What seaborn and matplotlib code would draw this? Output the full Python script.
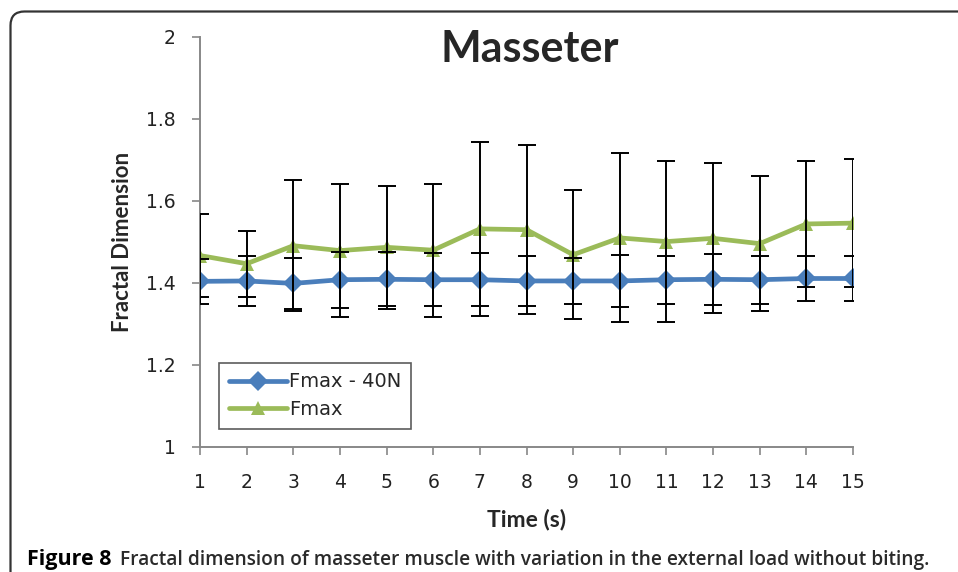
import numpy as np
import pandas as pd
import matplotlib
matplotlib.use("Agg")
import matplotlib.pyplot as plt
import seaborn as sns
from matplotlib.path import Path
from matplotlib.patches import PathPatch
from matplotlib.transforms import Affine2D

time_s = list(range(1, 16))
fmax40_mean = [1.404, 1.405, 1.399, 1.408, 1.409, 1.408, 1.408, 1.405, 1.405, 1.405, 1.408, 1.409, 1.408, 1.411, 1.411]
fmax40_sd = [0.055, 0.060, 0.063, 0.068, 0.066, 0.064, 0.065, 0.061, 0.057, 0.063, 0.059, 0.062, 0.059, 0.056, 0.056]
fmax_mean = [1.467, 1.447, 1.491, 1.479, 1.487, 1.480, 1.532, 1.530, 1.469, 1.510, 1.501, 1.509, 1.496, 1.544, 1.546]
fmax_sd = [0.101, 0.080, 0.160, 0.163, 0.150, 0.162, 0.212, 0.206, 0.157, 0.206, 0.197, 0.183, 0.165, 0.153, 0.156]
series_names = ["Fmax - 40N", "Fmax"]
y_ticks = [1, 1.2, 1.4, 1.6, 1.8, 2]
y_tick_labels = ["1", "1.2", "1.4", "1.6", "1.8", "2"]

sns.set_style("white")
plt.rcParams["font.family"] = ["DejaVu Sans"]

df = pd.DataFrame({
    "Time": time_s * 2,
    "FD": fmax40_mean + fmax_mean,
    "SD": fmax40_sd + fmax_sd,
    "Series": [series_names[0]] * 15 + [series_names[1]] * 15,
})

BLUE = "#4a7ebb"
GREEN = "#9bbb59"

W, H = 958, 572
fig = plt.figure(figsize=(W / 100, H / 100), dpi=100)
ax = fig.add_axes([200 / W, 1 - 447 / H, 653 / W, 410 / H])

sns.lineplot(data=df, x="Time", y="FD", hue="Series", style="Series",
             palette={series_names[0]: BLUE, series_names[1]: GREEN},
             markers={series_names[0]: "D", series_names[1]: "^"},
             dashes=False, linewidth=3.4, markersize=10.5,
             markeredgewidth=0, ax=ax, zorder=3, legend=True)

for name in series_names:
    sub = df[df["Series"] == name]
    ax.errorbar(sub["Time"], sub["FD"], yerr=sub["SD"], fmt="none",
                ecolor="black", elinewidth=1.4, capsize=6.5, capthick=1.4,
                zorder=4)

ax.set_xlim(1, 15)
ax.set_ylim(1, 2)
ax.set_xticks(time_s)
ax.set_xticklabels([str(t) for t in time_s], fontsize=13.5)
ax.set_yticks(y_ticks)
ax.set_yticklabels(y_tick_labels, fontsize=13.5)
ax.tick_params(axis="both", direction="out", length=5.5, width=1.2,
               color="#888888", labelcolor="#222222", left=True, bottom=True)
ax.tick_params(axis="y", pad=12)
ax.tick_params(axis="x", pad=13)
for s in ["top", "right"]:
    ax.spines[s].set_visible(False)
for s in ["left", "bottom"]:
    ax.spines[s].set_color("#888888")
    ax.spines[s].set_linewidth(1.4)

ax.set_xlabel("Time (s)", fontsize=16.5, fontweight="bold", family="Lato", labelpad=12)
ax.set_ylabel("Fractal Dimension", fontsize=16, fontweight="bold", family="Lato", labelpad=9)
fig.text(530 / W, 1 - 49 / H, "Masseter", fontsize=31, fontweight="bold",
         family="Lato", ha="center", va="center")

handles, labels = ax.get_legend_handles_labels()
leg = ax.legend(handles, labels, loc="lower left", bbox_to_anchor=(0.029, 0.044),
                fontsize=14, frameon=True, fancybox=False, handlelength=3.0,
                handletextpad=0.1, borderpad=0.5, labelspacing=0.45,
                borderaxespad=0)
leg.get_frame().set_edgecolor("#333333")
leg.get_frame().set_linewidth(1.2)

# outer chart frame with rounded top-left corner (pixel coordinates, y down)
r = 14
verts = [(10.5, H + 20), (10.5, 11.5 + r), (10.5, 11.5), (10.5 + r, 11.5), (W + 20, 11.5)]
codes = [Path.MOVETO, Path.LINETO, Path.CURVE3, Path.CURVE3, Path.LINETO]
pix = Affine2D().scale(1 / W, -1 / H).translate(0, 1) + fig.transFigure
frame = PathPatch(Path(verts, codes), fill=False, edgecolor="#333333",
                  linewidth=1.6, transform=pix, clip_on=False)
fig.patches.append(frame)

fig.text(27 / W, 1 - 565 / H, "Figure 8", fontsize=15.5, fontweight="bold",
         family="Open Sans", color="black", va="baseline", ha="left")
fig.text(120 / W, 1 - 565 / H,
         "Fractal dimension of masseter muscle with variation in the external load without biting.",
         fontsize=13.8, fontweight="semibold", family="Open Sans", color="#2a2a2a",
         va="baseline", ha="left")

fig.savefig("out.png", dpi=100)
